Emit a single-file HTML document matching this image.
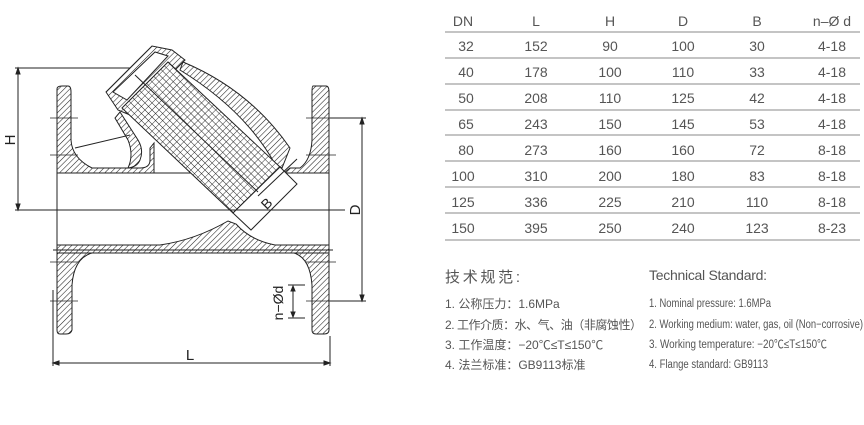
<!DOCTYPE html>
<html><head><meta charset="utf-8"><style>
html,body{margin:0;padding:0;background:#fff;}
svg{display:block}
</style></head><body>
<svg width="864" height="425" viewBox="0 0 864 425" xmlns="http://www.w3.org/2000/svg">
<defs>
<pattern id="hatch" width="4" height="4" patternUnits="userSpaceOnUse" patternTransform="rotate(45)">
<rect width="4" height="4" fill="#fff"/><line x1="0" y1="0" x2="0" y2="4" stroke="#222" stroke-width="1.1"/></pattern>
<pattern id="mesh" width="5" height="5" patternUnits="userSpaceOnUse" patternTransform="rotate(45)">
<rect width="5" height="5" fill="#fff"/><path d="M0 0V5M0 0H5" stroke="#222" stroke-width="0.9"/></pattern>
</defs>
<g stroke="#222" stroke-width="1" fill="none">
<!-- left flange top -->
<path d="M57 89 Q57 86 62 86 H68 Q71 86 71 92 V140 Q72 158 92 168 H140 Q150 168 150 160 V148 L154 143 L154 173 H57 V146 Z" fill="url(#hatch)"/>
<!-- lower wall band -->
<path d="M57 245 H160 Q195 240 228 221 L236 224 Q250 240 275 245 H329 V253 H57 Z" fill="url(#hatch)"/>
<!-- lower flanges -->
<path d="M57 253 H92 Q74 258 72 285 V330 Q71 334 66 334 H60 Q57 334 57 330 Z" fill="url(#hatch)"/>
<path d="M329 253 V330 Q329 334 324 334 H316 Q312 334 312 330 V285 Q310 258 294 253 Z" fill="url(#hatch)"/>
<!-- right flange top -->
<path d="M313 86 H326 Q329 86 329 92 V173 H284 L290 168 H300 Q311 160 312 140 V92 Q312 86 313 86Z" fill="url(#hatch)"/>
<!-- bore lines -->
<line x1="57" y1="173" x2="329" y2="173"/>
<line x1="53" y1="250" x2="333" y2="250"/>
<line x1="57" y1="173" x2="57" y2="250"/>
<line x1="329" y1="173" x2="329" y2="250"/>
<!-- cap/cover -->
<path d="M106 92 L152 46 L172 50 L185 60 L177 68 L130 115 L118 110 Z" fill="url(#hatch)"/>
<path d="M113 92 L155 52 L168 56 L127 100 Z" fill="#fff"/>
<!-- outer body around screen -->
<path d="M183 62 Q250 90 290 148 L282 168 L275 164 Q245 110 180 70 Z" fill="url(#hatch)"/>
<!-- screen -->
<path d="M122 108 L168 62 L280 167 L233 213 Z" fill="url(#mesh)"/>
<path d="M233 213 L280 167 L297 184 L251 230 Z" fill="#fff"/>
<line x1="135" y1="75" x2="258" y2="192"/>
<line x1="258" y1="196" x2="297" y2="159"/>
<!-- small arm -->
<path d="M120 112 L138 140 Q144 150 140 160 Q137 167 128 168 Q134 155 128 140 L115 118 Z" fill="url(#hatch)"/>
<line x1="75" y1="148" x2="130" y2="135"/>
<!-- center line -->
<line x1="15" y1="210" x2="345" y2="210"/>
<!-- H dim -->
<line x1="15" y1="68" x2="130" y2="68"/>
<line x1="18" y1="70" x2="18" y2="208"/>
<path d="M18 68 l-2 6 h4z M18 210 l-2 -6 h4z" fill="#222"/>
<!-- D dim -->
<line x1="330" y1="118" x2="366" y2="118"/>
<line x1="330" y1="301" x2="366" y2="301"/>
<line x1="362" y1="120" x2="362" y2="299"/>
<path d="M362 118 l-2 6 h4z M362 301 l-2 -6 h4z" fill="#222"/>
<!-- n-Od dim -->
<line x1="288" y1="285" x2="305" y2="285"/>
<line x1="288" y1="318" x2="305" y2="318"/>
<line x1="293" y1="290" x2="293" y2="314"/>
<path d="M293 286 l-2 5 h4z M293 317 l-2 -5 h4z" fill="#222"/>
<!-- L dim -->
<line x1="53" y1="290" x2="53" y2="366"/>
<line x1="330" y1="336" x2="330" y2="366"/>
<line x1="55" y1="363" x2="328" y2="363"/>
<path d="M53 363 l6 -2 v4z M330 363 l-6 -2 v4z" fill="#222"/>
<!-- bolt marks -->
<g stroke-width="0.8">
<line x1="50" y1="118" x2="78" y2="118"/><line x1="306" y1="118" x2="336" y2="118"/>
<line x1="50" y1="155" x2="78" y2="155"/><line x1="306" y1="155" x2="336" y2="155"/>
<line x1="50" y1="262" x2="78" y2="262"/><line x1="306" y1="262" x2="336" y2="262"/>
<line x1="50" y1="301" x2="78" y2="301"/><line x1="306" y1="301" x2="336" y2="301"/>
</g>
</g>
<g font-family="Liberation Sans, sans-serif" fill="#222">
<text x="15" y="140" font-size="15" transform="rotate(-90 15 140)" text-anchor="middle">H</text>
<text x="360" y="210" font-size="15" transform="rotate(-90 360 210)" text-anchor="middle">D</text>
<text x="283" y="303" font-size="14" transform="rotate(-90 283 303)" text-anchor="middle">n−Ød</text>
<text x="190" y="360" font-size="15" text-anchor="middle">L</text>
<text x="270" y="207" font-size="14" transform="rotate(-45 270 207)" text-anchor="middle">B</text>
</g>
<!-- table -->
<g font-family="Liberation Sans, sans-serif" font-size="14" fill="#555" text-anchor="middle">
<g stroke="#888" stroke-width="1">
<line x1="445" y1="32" x2="860" y2="32"/><line x1="445" y1="58" x2="860" y2="58"/>
<line x1="445" y1="84" x2="860" y2="84"/><line x1="445" y1="110" x2="860" y2="110"/>
<line x1="445" y1="135" x2="860" y2="135"/><line x1="445" y1="161" x2="860" y2="161"/>
<line x1="445" y1="187" x2="860" y2="187"/><line x1="445" y1="213" x2="860" y2="213"/>
<line x1="445" y1="240" x2="860" y2="240"/>
</g>
<g><text x="463" y="26">DN</text><text x="536" y="26">L</text><text x="610" y="26">H</text><text x="683" y="26">D</text><text x="757" y="26">B</text><text x="832" y="26">n–Ø d</text></g>
<g><text x="466" y="51">32</text><text x="536" y="51">152</text><text x="610" y="51">90</text><text x="683" y="51">100</text><text x="757" y="51">30</text><text x="832" y="51">4-18</text></g>
<g><text x="466" y="77">40</text><text x="536" y="77">178</text><text x="610" y="77">100</text><text x="683" y="77">110</text><text x="757" y="77">33</text><text x="832" y="77">4-18</text></g>
<g><text x="466" y="103">50</text><text x="536" y="103">208</text><text x="610" y="103">110</text><text x="683" y="103">125</text><text x="757" y="103">42</text><text x="832" y="103">4-18</text></g>
<g><text x="466" y="129">65</text><text x="536" y="129">243</text><text x="610" y="129">150</text><text x="683" y="129">145</text><text x="757" y="129">53</text><text x="832" y="129">4-18</text></g>
<g><text x="466" y="155">80</text><text x="536" y="155">273</text><text x="610" y="155">160</text><text x="683" y="155">160</text><text x="757" y="155">72</text><text x="832" y="155">8-18</text></g>
<g><text x="463" y="181">100</text><text x="536" y="181">310</text><text x="610" y="181">200</text><text x="683" y="181">180</text><text x="757" y="181">83</text><text x="832" y="181">8-18</text></g>
<g><text x="463" y="207">125</text><text x="536" y="207">336</text><text x="610" y="207">225</text><text x="683" y="207">210</text><text x="757" y="207">110</text><text x="832" y="207">8-18</text></g>
<g><text x="463" y="233">150</text><text x="536" y="233">395</text><text x="610" y="233">250</text><text x="683" y="233">240</text><text x="757" y="233">123</text><text x="832" y="233">8-23</text></g>
</g>
<g font-family="Liberation Sans, Noto Sans CJK SC, sans-serif" fill="#555">
<text x="445" y="282" font-size="15" textLength="75">技术规范:</text>
<text x="445" y="308" font-size="12">1. 公称压力：1.6MPa</text>
<text x="445" y="329" font-size="12" textLength="197">2. 工作介质：水、气、油（非腐蚀性）</text>
<text x="445" y="349" font-size="12">3. 工作温度：−20℃≤T≤150℃</text>
<text x="445" y="369" font-size="12">4. 法兰标准：GB9113标准</text>
<text x="649" y="280" font-size="14" textLength="118">Technical Standard:</text>
<g font-size="11.5">
<text x="649" y="307" textLength="122" lengthAdjust="spacingAndGlyphs">1. Nominal pressure: 1.6MPa</text>
<text x="649" y="328" textLength="214" lengthAdjust="spacingAndGlyphs">2. Working medium: water, gas, oil (Non−corrosive)</text>
<text x="649" y="348" textLength="178" lengthAdjust="spacingAndGlyphs">3. Working temperature: −20℃≤T≤150℃</text>
<text x="649" y="368" textLength="119" lengthAdjust="spacingAndGlyphs">4. Flange standard: GB9113</text>
</g>
</g>
</svg>
</body></html>
